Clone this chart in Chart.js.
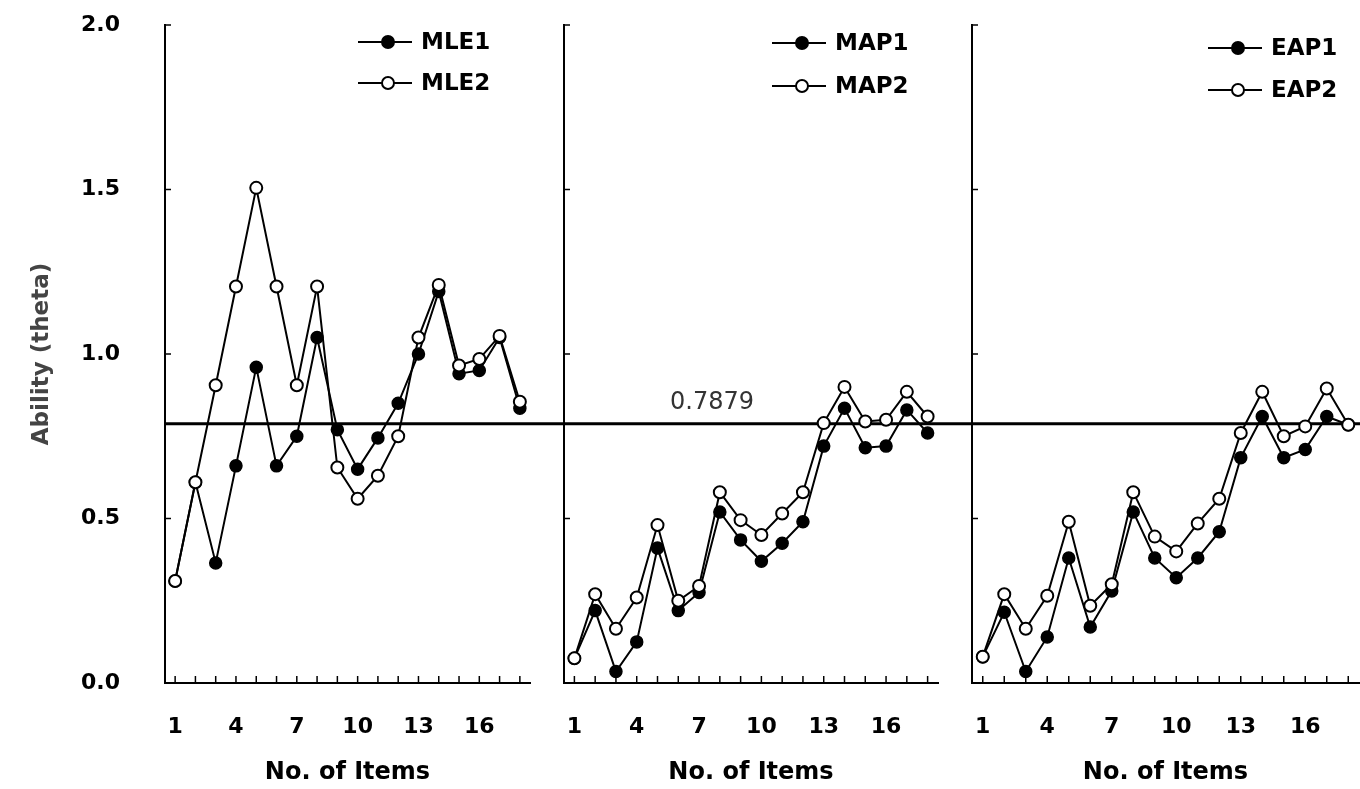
<!DOCTYPE html>
<html>
<head>
<meta charset="utf-8">
<script src="https://cdn.jsdelivr.net/npm/chart.js@4.4.1/dist/chart.umd.min.js"></script>
<style>
  body { margin: 0; background: #fff; }
  #wrap { position: relative; width: 1360px; height: 789px; overflow: hidden; }
  canvas { position: absolute; top: 0; }
</style>
</head>
<body>
<div id="wrap">
  <canvas id="c1" width="547" height="789" style="left:0px"></canvas>
  <canvas id="c2" width="408" height="789" style="left:547px"></canvas>
  <canvas id="c3" width="412" height="789" style="left:955px"></canvas>
</div>
<script>
// Ability estimates per number of items

const items = ['1','2','3','4','5','6','7','8','9','10','11','12','13','14','15','16','17','18']; // x categories
const xTickLabels = ['1','4','7','10','13','16'];   // only these get a label
const yTicks = [0, 0.5, 1.0, 1.5, 2.0];
const refValue = 0.7879;                            // true ability line

const mle1 = [0.31, 0.61, 0.365, 0.66, 0.96, 0.66, 0.75, 1.05, 0.77, 0.65, 0.745, 0.85, 1.00, 1.19, 0.94, 0.95, 1.05, 0.835];
const mle2 = [0.31, 0.61, 0.905, 1.205, 1.505, 1.205, 0.905, 1.205, 0.655, 0.56, 0.63, 0.75, 1.05, 1.21, 0.965, 0.985, 1.055, 0.855];
const map1 = [0.075, 0.22, 0.035, 0.125, 0.41, 0.22, 0.275, 0.52, 0.435, 0.37, 0.425, 0.49, 0.72, 0.835, 0.715, 0.72, 0.83, 0.76];
const map2 = [0.075, 0.27, 0.165, 0.26, 0.48, 0.25, 0.295, 0.58, 0.495, 0.45, 0.515, 0.58, 0.79, 0.90, 0.795, 0.80, 0.885, 0.81];
const eap1 = [0.08, 0.215, 0.035, 0.14, 0.38, 0.17, 0.28, 0.52, 0.38, 0.32, 0.38, 0.46, 0.685, 0.81, 0.685, 0.71, 0.81, 0.785];
const eap2 = [0.08, 0.27, 0.165, 0.265, 0.49, 0.235, 0.30, 0.58, 0.445, 0.40, 0.485, 0.56, 0.76, 0.885, 0.75, 0.78, 0.895, 0.785];

const FONT = "'DejaVu Sans', Verdana, sans-serif";

// extra drawing: reference line, inward tick marks, legend, value label
const panelExtras = {
    id: 'panelExtras',
    beforeDatasetsDraw(chart, args, opts) {
        const ctx = chart.ctx;
        const y = chart.scales.y.getPixelForValue(refValue);
        ctx.save();
        ctx.strokeStyle = '#000';
        ctx.lineWidth = 3;
        ctx.beginPath();
        ctx.moveTo(opts.fromArea ? chart.chartArea.left : 0, y);
        ctx.lineTo(chart.width, y);
        ctx.stroke();
        ctx.restore();
    },
    afterDraw(chart, args, opts) {
        const ctx = chart.ctx;
        const xs = chart.scales.x, ys = chart.scales.y;
        ctx.save();
        ctx.strokeStyle = '#000';
        ctx.lineWidth = 1.5;
        // tick marks pointing into the plot
        items.forEach((it, i) => {
            const x = xs.getPixelForTick(i);
            ctx.beginPath();
            ctx.moveTo(x, xs.top);
            ctx.lineTo(x, xs.top - 7);
            ctx.stroke();
        });
        yTicks.forEach(v => {
            const y = ys.getPixelForValue(v);
            ctx.beginPath();
            ctx.moveTo(ys.right, y);
            ctx.lineTo(ys.right + 6, y);
            ctx.stroke();
        });
        // legend
        const lg = opts.legend;
        chart.data.datasets.forEach((ds, i) => {
            const y = lg.y + i * lg.gap;
            ctx.lineWidth = 2;
            ctx.beginPath();
            ctx.moveTo(lg.x, y);
            ctx.lineTo(lg.x + 54, y);
            ctx.stroke();
            ctx.beginPath();
            ctx.arc(lg.x + 30, y, 6, 0, Math.PI * 2);
            ctx.fillStyle = ds.pointBackgroundColor;
            ctx.fill();
            ctx.stroke();
            ctx.fillStyle = '#000';
            ctx.font = 'bold 23px ' + FONT;
            ctx.textBaseline = 'middle';
            ctx.textAlign = 'left';
            ctx.fillText(ds.label, lg.x + 63, y + 1);
        });
        // value of the reference line
        if (opts.refLabelX) {
            ctx.font = '24px ' + FONT;
            ctx.fillStyle = '#333';
            ctx.textAlign = 'center';
            ctx.textBaseline = 'middle';
            ctx.fillText(refValue.toFixed(4), opts.refLabelX, ys.getPixelForValue(refValue) - 21);
        }
        ctx.restore();
    }
};

function makeChart(id, names, s1, s2, first, extras, padRight) {
    const ctx = document.getElementById(id);
    return new Chart(ctx, {
        type: 'line',
        data: {
            labels: items,
            datasets: [
                {
                    label: names[0],
                    data: s1,
                    borderColor: '#000',
                    borderWidth: 2,
                    pointRadius: 6,
                    pointBackgroundColor: '#000',
                    pointBorderColor: '#000',
                    pointBorderWidth: 1.5,
                    order: 2
                },
                {
                    label: names[1],
                    data: s2,
                    borderColor: '#000',
                    borderWidth: 2,
                    pointRadius: 6,
                    pointBackgroundColor: '#fff',
                    pointBorderColor: '#000',
                    pointBorderWidth: 2,
                    order: 1              // open circles sit on top
                }
            ]
        },
        options: {
            responsive: false,
            animation: false,
            events: [],
            layout: { padding: { left: first ? 20 : 17, right: padRight, top: 25, bottom: 0 } },
            scales: {
                x: {
                    type: 'category',
                    offset: true,
                    grid: { display: false, drawTicks: false },
                    border: { display: true, color: '#000', width: 2 },
                    ticks: {
                        autoSkip: false,
                        maxRotation: 0,
                        padding: 31,
                        color: '#000',
                        font: { family: FONT, size: 22, weight: 'bold' },
                        callback: (v, i) => xTickLabels.includes(items[i]) ? items[i] : ''
                    },
                    title: {
                        display: true,
                        text: 'No. of Items',
                        color: '#000',
                        font: { family: FONT, size: 24, weight: 'bold' },
                        padding: { top: 0, bottom: 2 }
                    },
                    afterFit: s => { s.height = 106; s.paddingLeft = 0; s.paddingRight = 0; }
                },
                y: {
                    min: 0,
                    max: 2,
                    grid: { display: false, drawTicks: false },
                    border: { display: true, color: '#000', width: 2 },
                    afterBuildTicks: s => { s.ticks = yTicks.map(v => ({ value: v })); },
                    ticks: {
                        display: first,
                        padding: 45,
                        color: '#000',
                        font: { family: FONT, size: 22, weight: 'bold' },
                        callback: v => v.toFixed(1)
                    },
                    title: {
                        display: first,
                        text: 'Ability (theta)',
                        color: '#444',
                        font: { family: FONT, size: 23, weight: 'bold' },
                        padding: { top: 8, bottom: 0 }
                    },
                    afterFit: s => { s.width = first ? 145 : 0; s.paddingTop = 0; s.paddingBottom = 0; }
                }
            },
            plugins: {
                legend: { display: false },
                tooltip: { enabled: false },
                panelExtras: extras
            }
        },
        plugins: [panelExtras]
    });
}

makeChart('c1', ['MLE1', 'MLE2'], mle1, mle2, true,
    { fromArea: true, legend: { x: 358, y: 42, gap: 41 } }, 17);
makeChart('c2', ['MAP1', 'MAP2'], map1, map2, false,
    { fromArea: false, legend: { x: 225, y: 43, gap: 43 }, refLabelX: 165 }, 17);
makeChart('c3', ['EAP1', 'EAP2'], eap1, eap2, false,
    { fromArea: false, legend: { x: 253, y: 48, gap: 42 } }, 0);
</script>
</body>
</html>
